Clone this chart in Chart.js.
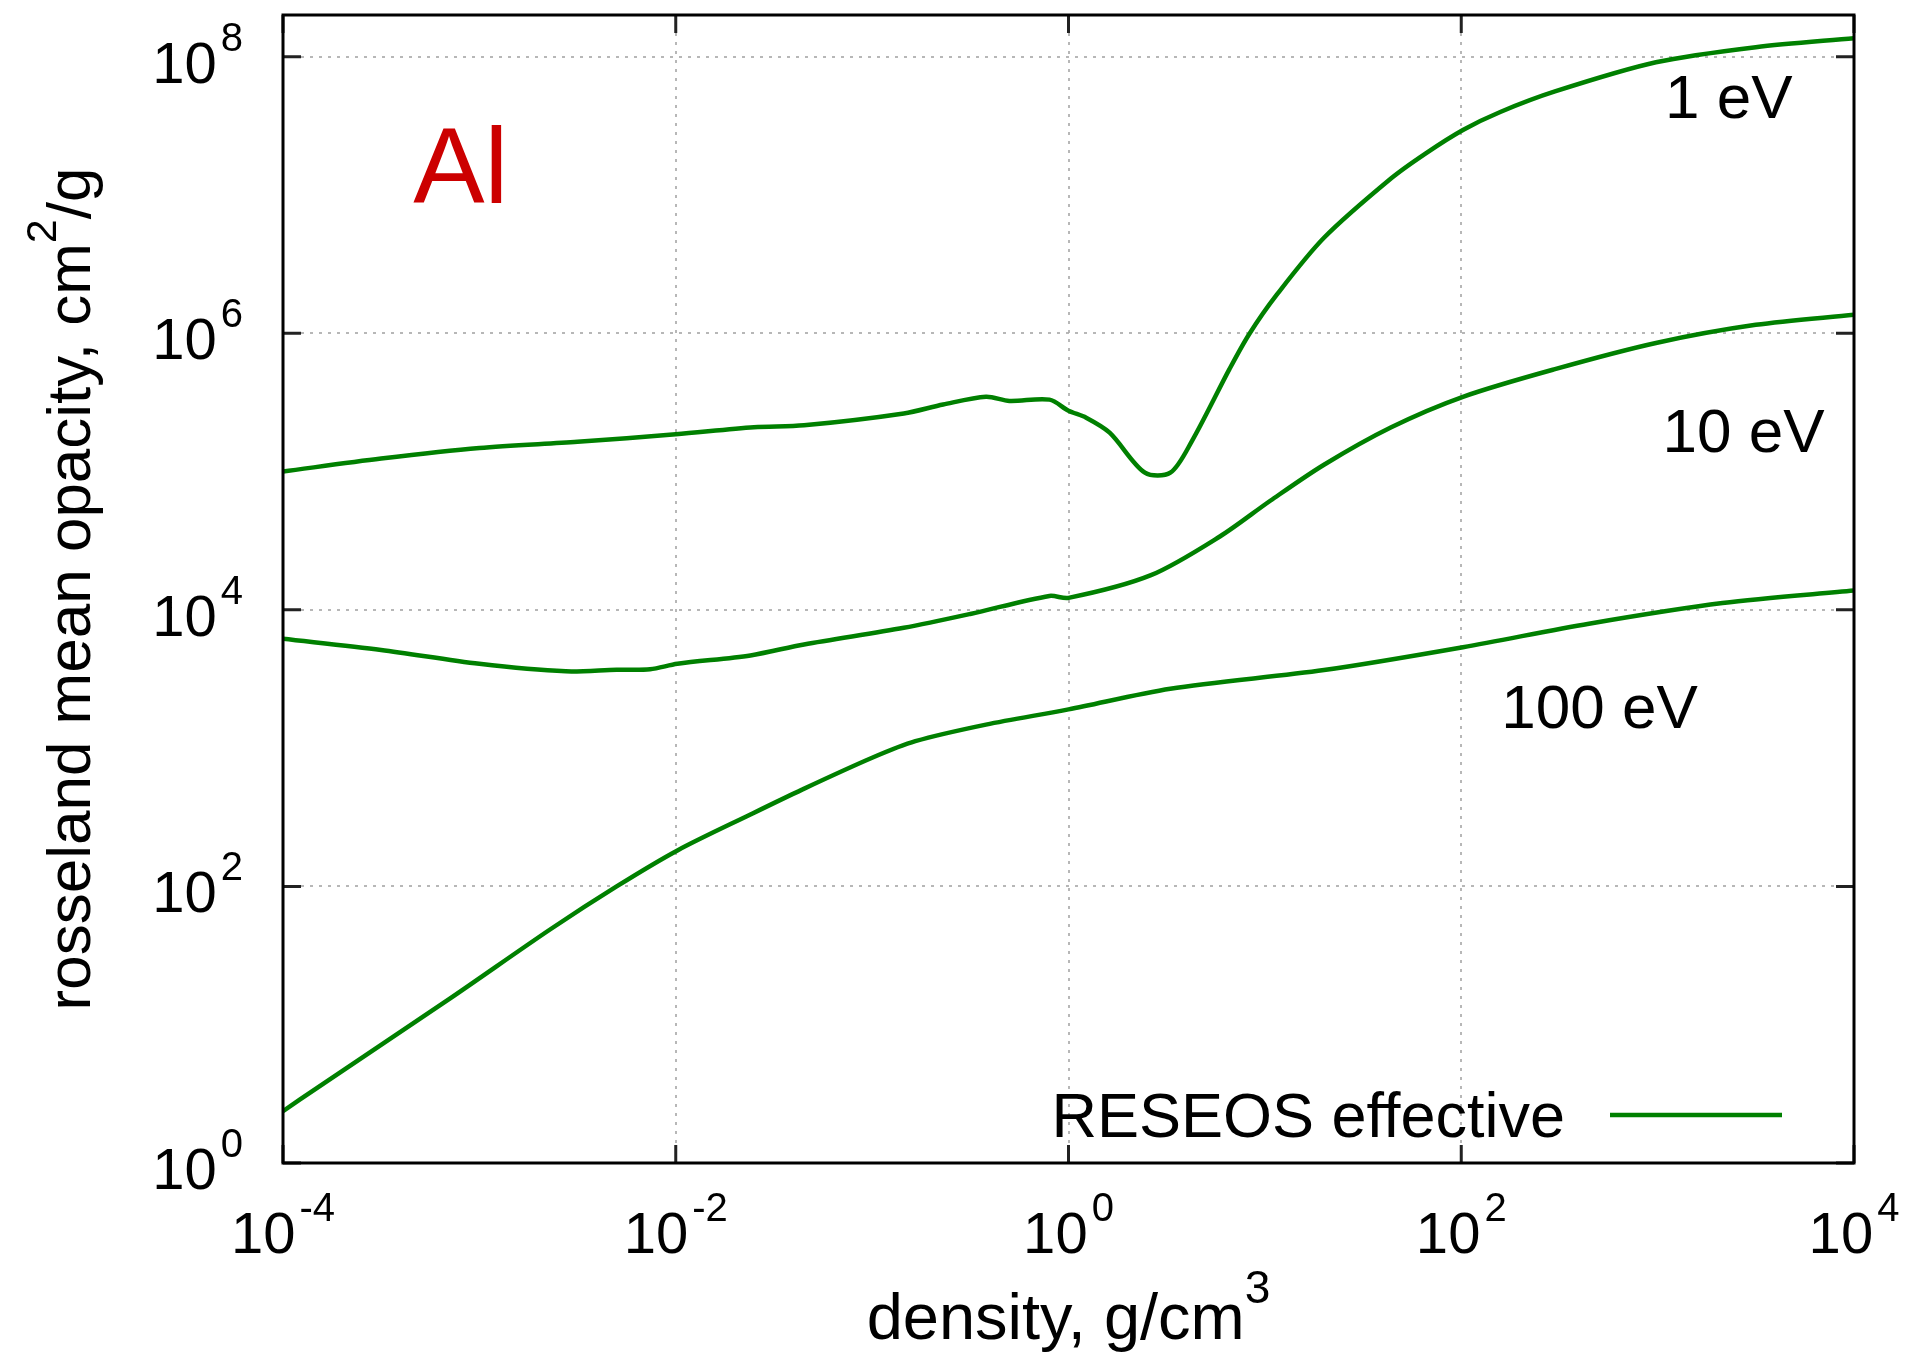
<!DOCTYPE html>
<html>
<head>
<meta charset="utf-8">
<title>Al rosseland mean opacity</title>
<script src="https://cdn.jsdelivr.net/npm/chart.js@4.4.1/dist/chart.umd.min.js"></script>
<style>
  html, body { margin: 0; padding: 0; background: #fff; }
  #wrap { width: 1910px; height: 1356px; position: relative; }
</style>
</head>
<body>
<div id="wrap"><canvas id="opacity"></canvas></div>
<script>
// density in g/cm^3, opacity in cm^2/g
const density1eV = [1e-4, 3.16e-4, 1e-3, 3.16e-3, 1e-2, 2.5e-2, 4.5e-2, 0.145, 0.23, 0.38, 0.5, 0.8,
  1.0, 1.23, 1.62, 2.45, 3.3, 4.25, 6.6, 8.3, 11.5, 20, 44, 66, 102, 158, 300, 980, 3160, 1e4];
const opacity1eV = [1.0e5, 1.24e5, 1.48e5, 1.64e5, 1.86e5, 2.09e5, 2.16e5, 2.63e5, 3.05e5, 3.47e5, 3.24e5, 3.31e5,
  2.75e5, 2.45e5, 1.91e5, 9.8e4, 9.8e4, 1.66e5, 5.5e5, 9.8e5, 1.9e6, 4.9e6, 1.32e7, 2.0e7, 2.95e7, 3.98e7,
  5.6e7, 9.1e7, 1.17e8, 1.36e8];

const density10eV = [1e-4, 3.16e-4, 1e-3, 2.75e-3, 5e-3, 7.4e-3, 1.02e-2, 2.4e-2, 4.5e-2, 0.145, 0.316, 0.8,
  1.0, 2.63, 5.9, 10.7, 20, 44, 102, 300, 980, 3160, 1e4];
const opacity10eV = [6170, 5130, 4070, 3590, 3690, 3720, 4070, 4680, 5620, 7410, 9330, 12600,
  12200, 17800, 33900, 61700, 1.12e5, 2.09e5, 3.47e5, 5.5e5, 8.5e5, 1.15e6, 1.36e6];

const density100eV = [1e-4, 1.48e-4, 7.1e-4, 2.3e-3, 5e-3, 1.02e-2, 2.4e-2, 4.4e-2, 0.1, 0.166, 0.38,
  1.0, 3.3, 20, 102, 447, 2140, 1e4];
const opacity100eV = [2.37, 3.47, 15.5, 49, 100, 182, 331, 501, 851, 1122, 1479,
  1905, 2690, 3670, 5370, 7940, 11200, 13800];

const xTickExponents = [-4, -2, 0, 2, 4];
const yTickExponents = [0, 2, 4, 6, 8];

const curveLabels = [
  { text: '1 eV', x: 1090, y: 3.6e7 },
  { text: '10 eV', x: 1060, y: 1.38e5 },
  { text: '100 eV', x: 160, y: 1406 }
];
const legendLabel = 'RESEOS effective';

const FONT = '"Liberation Sans", Arial, Helvetica, sans-serif';
const GREEN = '#008000';

function toPoints(xs, ys) {
  return xs.map((x, i) => ({ x: x, y: ys[i] }));
}

function curve(xs, ys) {
  return {
    label: legendLabel,
    data: toPoints(xs, ys),
    borderColor: GREEN,
    borderWidth: 4.5,
    pointRadius: 0,
    tension: 0.3,
    fill: false
  };
}

// "10" followed by a raised exponent; y is the baseline of "10"
function drawPower(ctx, exp, x, y, align) {
  ctx.font = `58px ${FONT}`;
  const w1 = ctx.measureText('10').width;
  ctx.font = `40px ${FONT}`;
  const w2 = ctx.measureText(exp).width;
  const gap = 4;
  const total = w1 + gap + w2;
  const x0 = align === 'right' ? x - total : x - total / 2;
  ctx.textAlign = 'left';
  ctx.textBaseline = 'alphabetic';
  ctx.font = `58px ${FONT}`;
  ctx.fillText('10', x0, y);
  ctx.font = `40px ${FONT}`;
  ctx.fillText(exp, x0 + w1 + gap, y - 32);
}

// text with one superscript piece, centred on (0,0) of the current transform
function drawTitle(ctx, before, sup, after, size) {
  ctx.font = `${size}px ${FONT}`;
  const a = ctx.measureText(before).width;
  const c = ctx.measureText(after).width;
  ctx.font = `${Math.round(size * 0.7)}px ${FONT}`;
  const b = ctx.measureText(sup).width;
  let x = -(a + b + c) / 2;
  ctx.textAlign = 'left';
  ctx.textBaseline = 'alphabetic';
  ctx.font = `${size}px ${FONT}`;
  ctx.fillText(before, x, 0);
  x += a;
  ctx.font = `${Math.round(size * 0.7)}px ${FONT}`;
  ctx.fillText(sup, x, -size * 0.55);
  x += b;
  ctx.font = `${size}px ${FONT}`;
  ctx.fillText(after, x, 0);
}

const frame = {
  id: 'frame',
  afterDraw(chart) {
    const ctx = chart.ctx;
    const a = chart.chartArea;
    const xs = chart.scales.x;
    const ys = chart.scales.y;
    const tick = 18;
    ctx.save();

    // tick marks on all four sides, pointing inward
    ctx.strokeStyle = '#222';
    ctx.lineWidth = 3;
    ctx.beginPath();
    xTickExponents.forEach(e => {
      const px = xs.getPixelForValue(10 ** e);
      ctx.moveTo(px, a.bottom); ctx.lineTo(px, a.bottom - tick);
      ctx.moveTo(px, a.top); ctx.lineTo(px, a.top + tick);
    });
    yTickExponents.forEach(e => {
      const py = ys.getPixelForValue(10 ** e);
      ctx.moveTo(a.left, py); ctx.lineTo(a.left + tick, py);
      ctx.moveTo(a.right, py); ctx.lineTo(a.right - tick, py);
    });
    ctx.stroke();

    // border
    ctx.strokeStyle = '#000';
    ctx.lineWidth = 3;
    ctx.strokeRect(a.left, a.top, a.right - a.left, a.bottom - a.top);

    // tick labels
    ctx.fillStyle = '#000';
    xTickExponents.forEach(e => {
      drawPower(ctx, String(e), xs.getPixelForValue(10 ** e), a.bottom + 90, 'center');
    });
    yTickExponents.forEach(e => {
      drawPower(ctx, String(e), a.left - 40, ys.getPixelForValue(10 ** e) + 26, 'right');
    });

    // axis titles
    ctx.save();
    ctx.translate((a.left + a.right) / 2, a.bottom + 176);
    drawTitle(ctx, 'density, g/cm', '3', '', 65);
    ctx.restore();

    ctx.save();
    ctx.translate(90, (a.top + a.bottom) / 2);
    ctx.rotate(-Math.PI / 2);
    drawTitle(ctx, 'rosseland mean opacity, cm', '2', '/g', 62);
    ctx.restore();

    // element name
    ctx.fillStyle = '#cc0000';
    ctx.font = `107px ${FONT}`;
    ctx.textAlign = 'left';
    ctx.fillText('Al', xs.getPixelForValue(4.6e-4), ys.getPixelForValue(8.7e6));

    // temperature labels
    ctx.fillStyle = '#000';
    ctx.font = `62px ${FONT}`;
    curveLabels.forEach(l => {
      ctx.fillText(l.text, xs.getPixelForValue(l.x), ys.getPixelForValue(l.y));
    });

    // key, bottom right inside the frame
    const sx0 = a.right - 244, sx1 = a.right - 72, sy = a.bottom - 48;
    ctx.textAlign = 'right';
    ctx.font = `63px ${FONT}`;
    ctx.fillText(legendLabel, sx0 - 45, a.bottom - 26);
    ctx.strokeStyle = GREEN;
    ctx.lineWidth = 4.5;
    ctx.beginPath();
    ctx.moveTo(sx0, sy); ctx.lineTo(sx1, sy);
    ctx.stroke();

    ctx.restore();
  }
};

const gridStyle = {
  color: 'rgba(170,170,170,0.85)',
  lineWidth: 2,
  drawTicks: false
};

new Chart(document.getElementById('opacity').getContext('2d'), {
  type: 'line',
  data: {
    datasets: [
      curve(density1eV, opacity1eV),
      curve(density10eV, opacity10eV),
      curve(density100eV, opacity100eV)
    ]
  },
  options: {
    responsive: true,
    maintainAspectRatio: false,
    animation: false,
    layout: { padding: { left: 283, right: 56, top: 15, bottom: 193 } },
    scales: {
      x: {
        type: 'logarithmic',
        min: 1e-4, max: 1e4,
        afterBuildTicks: scale => { scale.ticks = xTickExponents.map(e => ({ value: 10 ** e })); },
        ticks: { display: false },
        grid: gridStyle,
        border: { display: false, dash: [3, 6] }
      },
      y: {
        type: 'logarithmic',
        min: 1, max: 2e8,
        afterBuildTicks: scale => { scale.ticks = yTickExponents.map(e => ({ value: 10 ** e })); },
        ticks: { display: false },
        grid: gridStyle,
        border: { display: false, dash: [3, 6] }
      }
    },
    plugins: {
      legend: { display: false },
      tooltip: { enabled: false }
    }
  },
  plugins: [frame]
});
</script>
</body>
</html>
